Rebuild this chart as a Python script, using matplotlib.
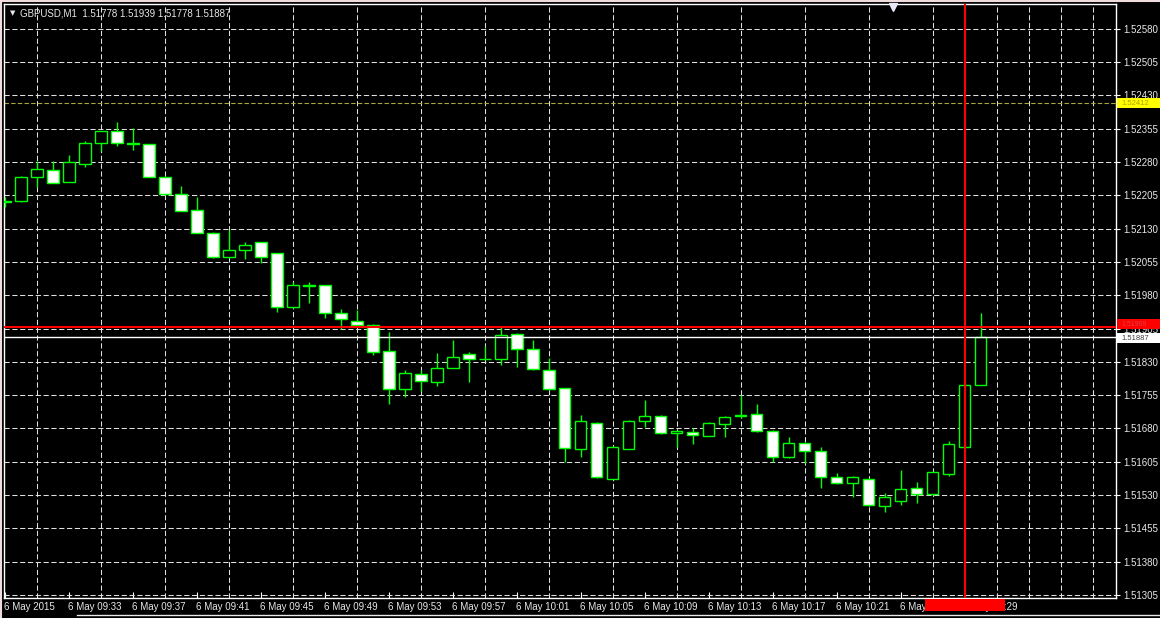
import matplotlib.pyplot as plt
import matplotlib.transforms as mtransforms
from matplotlib.patches import Rectangle
from matplotlib.lines import Line2D
import numpy as np
import pandas as pd

# GBPUSD M1 bars, 6 May 2015 09:29 - 10:30
times = pd.date_range("2015-05-06 09:29", periods=62, freq="min")
opens = [1.52192, 1.52193, 1.52247, 1.52262, 1.52236, 1.52275, 1.52323, 1.52350, 1.52322, 1.52320,
         1.52246, 1.52209, 1.52171, 1.52121, 1.52065, 1.52083, 1.52099, 1.52074, 1.51953, 1.52001,
         1.52003, 1.51941, 1.51923, 1.51914, 1.51855, 1.51769, 1.51802, 1.51785, 1.51817, 1.51847,
         1.51836, 1.51836, 1.51892, 1.51859, 1.51811, 1.51770, 1.51633, 1.51693, 1.51567, 1.51634,
         1.51697, 1.51708, 1.51669, 1.51672, 1.51664, 1.51691, 1.51708, 1.51712, 1.51674, 1.51615,
         1.51648, 1.51630, 1.51570, 1.51557, 1.51567, 1.51506, 1.51517, 1.51545, 1.51532, 1.51577,
         1.51639, 1.51778]
highs = [1.52201, 1.52248, 1.52282, 1.52282, 1.52296, 1.52328, 1.52351, 1.52371, 1.52357, 1.52321,
         1.52248, 1.52226, 1.52202, 1.52122, 1.52127, 1.52100, 1.52101, 1.52075, 1.52010, 1.52010,
         1.52004, 1.51950, 1.51946, 1.51915, 1.51898, 1.51811, 1.51811, 1.51849, 1.51880, 1.51853,
         1.51865, 1.51910, 1.51894, 1.51879, 1.51838, 1.51771, 1.51710, 1.51694, 1.51640, 1.51699,
         1.51744, 1.51710, 1.51676, 1.51681, 1.51694, 1.51708, 1.51755, 1.51735, 1.51676, 1.51661,
         1.51649, 1.51639, 1.51580, 1.51573, 1.51568, 1.51535, 1.51586, 1.51560, 1.51584, 1.51652,
         1.51780, 1.51939]
lows = [1.52178, 1.52190, 1.52223, 1.52232, 1.52235, 1.52269, 1.52305, 1.52317, 1.52307, 1.52246,
        1.52205, 1.52169, 1.52120, 1.52064, 1.52064, 1.52061, 1.52052, 1.51943, 1.51951, 1.51963,
        1.51928, 1.51903, 1.51910, 1.51845, 1.51736, 1.51750, 1.51765, 1.51775, 1.51816, 1.51785,
        1.51834, 1.51823, 1.51819, 1.51811, 1.51766, 1.51605, 1.51616, 1.51568, 1.51566, 1.51633,
        1.51684, 1.51667, 1.51639, 1.51646, 1.51663, 1.51661, 1.51703, 1.51672, 1.51605, 1.51613,
        1.51601, 1.51545, 1.51555, 1.51525, 1.51505, 1.51492, 1.51507, 1.51511, 1.51530, 1.51573,
        1.51638, 1.51778]
closes = [1.52190, 1.52247, 1.52264, 1.52233, 1.52279, 1.52324, 1.52350, 1.52322, 1.52321, 1.52247,
          1.52207, 1.52170, 1.52121, 1.52065, 1.52083, 1.52094, 1.52065, 1.51953, 1.52002, 1.52002,
          1.51939, 1.51926, 1.51912, 1.51853, 1.51768, 1.51805, 1.51786, 1.51817, 1.51841, 1.51836,
          1.51836, 1.51890, 1.51859, 1.51813, 1.51768, 1.51636, 1.51696, 1.51570, 1.51638, 1.51696,
          1.51708, 1.51669, 1.51675, 1.51665, 1.51692, 1.51706, 1.51710, 1.51674, 1.51616, 1.51648,
          1.51630, 1.51570, 1.51557, 1.51570, 1.51507, 1.51525, 1.51543, 1.51532, 1.51581, 1.51644,
          1.51778, 1.51887]

bid = 1.51887
ask = 1.51909
level = 1.52412
price_ticks = np.round(np.arange(1.51305, 1.52581, 0.00075), 5)

FONT = "Liberation Sans"
TXT = "#e8e8e8"
GREEN = "#00ff00"

fig = plt.figure(figsize=(11.6, 6.18), dpi=100, facecolor="black")
ax = fig.add_axes([4 / 1160, 20 / 618, 1112 / 1160, 594 / 618], facecolor="black")

x = np.arange(len(opens))
o = np.array(opens); h = np.array(highs); l = np.array(lows); c = np.array(closes)
up = c > o
bottom = np.minimum(o, c)
height = np.maximum(np.abs(c - o), 1e-7)

ax.vlines(x, l, h, color=GREEN, lw=1, zorder=3)
ax.bar(x, height, bottom=bottom, width=0.69,
       facecolor=np.where(up, "black", "white"), edgecolor=GREEN, linewidth=1, zorder=4)

# price lines
ax.axhline(ask, color="red", lw=1.5, zorder=5)
ax.axhline(bid, color="white", lw=1, zorder=5)
ax.axhline(level, color="#a8a838", lw=0.8, ls=(0, (4, 2)), zorder=2)
ax.axvline(60, color="red", lw=1.5, zorder=5)

ax.set_xlim(-0.0625, 69.44)
ax.set_ylim(1.51298, 1.52636)

# ticks and grid
tick_pos = x[::4]
tick_lab = ["6 May 2015"] + [t.strftime("6 May %H:%M") for t in times[::4][1:]]
ax.set_xticks(tick_pos)
ax.set_xticklabels(tick_lab, ha="left", fontsize=7, family=FONT, color=TXT)
ax.set_xticks(np.arange(0, 70, 2), minor=True)
ax.tick_params(axis="x", which="major", direction="in", length=4, color="white", pad=3)
ax.tick_params(axis="x", which="minor", length=0)
for lab in ax.get_xticklabels():
    lab.set_transform(lab.get_transform() + mtransforms.ScaledTranslation(-1 / 100, 0, fig.dpi_scale_trans))

ax.yaxis.tick_right()
ax.set_yticks(price_ticks)
ax.set_yticklabels([f"{v:.5f}" for v in price_ticks], fontsize=7, family=FONT, color=TXT)
ax.tick_params(axis="y", direction="out", length=3, color="white", pad=2)

ax.grid(True, which="minor", axis="x", color="#e0e0e0", lw=0.75, ls=(0, (5, 2.5)))
ax.grid(True, which="major", axis="y", color="#e0e0e0", lw=0.75, ls=(0, (5, 2.5)))
ax.set_axisbelow(True)

for s in ax.spines.values():
    s.set_color("white")
    s.set_linewidth(1)

# right axis price labels
ty = mtransforms.blended_transform_factory(ax.transAxes, ax.transData)
px = 1 / 44400
box_w = 44 / 1112
for val, fc, tc, shift, fs in [(level, "#ffff00", "#b0a000", 0, 5.5), (ask, "#ff0000", "#e04040", 2.5, 5),
                               (bid, "white", "#404040", -1.5, 5.5)]:
    yc = val + shift * px
    ax.add_patch(Rectangle((1.0005, yc - 5 * px), box_w, 10 * px, transform=ty,
                           facecolor=fc, edgecolor="none", clip_on=False, zorder=6))
    ax.text(1.005, yc, f"{val:.5f}", transform=ty, fontsize=fs, family=FONT,
            color=tc, va="center", ha="left", zorder=7, clip_on=False)

# header
ax.text(6 / 1112, 1 - 9 / 594, "\u25bc", transform=ax.transAxes, fontsize=5,
        color=TXT, va="center", ha="left", family="DejaVu Sans")
ax.text(16 / 1112, 1 - 9 / 594, "GBPUSD,M1  1.51778 1.51939 1.51778 1.51887",
        transform=ax.transAxes, fontsize=7, family=FONT, color=TXT, va="center", ha="left")

# shift marker
tx = mtransforms.blended_transform_factory(ax.transData, ax.transAxes)
ax.plot([55.5], [1 - 3 / 594], marker="v", ms=6, color="#e8e8f8", transform=tx,
        clip_on=False, zorder=8)

# red time label on x axis
fig.add_artist(Rectangle((925 / 1160, 1 - 611 / 618), 80 / 1160, 12 / 618,
                         transform=fig.transFigure, facecolor="red", edgecolor="none", zorder=10))
# window borders
fig.add_artist(Line2D([77 / 1160, 1], [3 / 618, 3 / 618], transform=fig.transFigure, color="#e8e8e8", lw=1))
fig.add_artist(Line2D([0.5 / 1160, 0.5 / 1160], [0, 1], transform=fig.transFigure, color="#f0dcdc", lw=1.5))
fig.add_artist(Line2D([0, 1], [1 - 0.5 / 618, 1 - 0.5 / 618], transform=fig.transFigure, color="#f0dcdc", lw=1.5))

fig.savefig("out.png", dpi=100, facecolor="black")
